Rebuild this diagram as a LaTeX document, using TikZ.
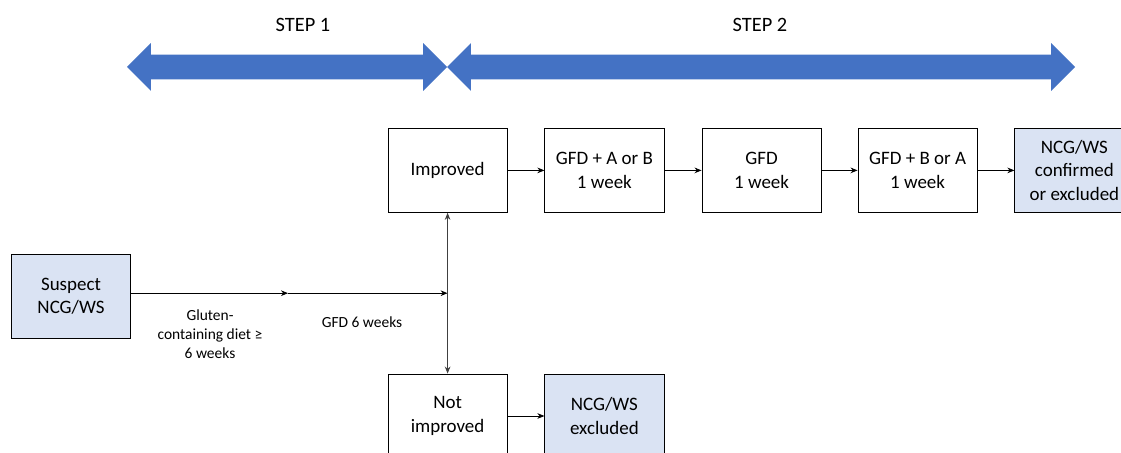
\documentclass[tikz,border=0pt]{standalone}
\usepackage{fontspec}
\setmainfont{Carlito}
\usepackage{tikz}
\usetikzlibrary{shapes, shapes.arrows, arrows.meta, positioning, calc}
\definecolor{stepblue}{RGB}{68, 114, 196}
\definecolor{paleblue}{RGB}{218, 227, 243}

\begin{document}
\begin{tikzpicture}[
  cbox/.style={draw, line width=0.6pt, minimum width=2.98cm, minimum height=2.1cm, align=center, font=\fontsize{13.5}{16.5}\selectfont, inner sep=2pt},
  endbox/.style={cbox, fill=paleblue},
  steparrow/.style={double arrow, fill=stepblue, draw=none, text height=0pt, text depth=0pt, inner xsep=0pt, inner ysep=0.3cm, double arrow head extend=0.29cm},
  flow/.style={-{Stealth[length=5pt, width=4pt]}, line width=0.6pt},
  lbl/.style={align=center, font=\fontsize{11}{13.5}\selectfont}
]
  \useasboundingbox (0, 0) rectangle (28.025, -11.325);

  \node[steparrow, minimum height=8.0cm] (arrowone) at (7.175, -1.675) {};
  \node[steparrow, minimum height=15.7cm] (arrowtwo) at (19.025, -1.675) {};
  \node[font=\fontsize{14.5}{17}\selectfont] (stepone) at (7.575, -0.625) {STEP 1};
  \node[font=\fontsize{14.5}{17}\selectfont] (steptwo) at (19.0, -0.625) {STEP 2};

  \node[endbox] (suspect) at (1.775, -7.4) {Suspect\\NCG/WS};
  \node[cbox] (improved) at (11.19, -4.26) {Improved};
  \node[cbox] (gfdab) at (15.11, -4.26) {GFD + A or B\\1 week};
  \node[cbox] (gfd) at (19.04, -4.26) {GFD\\1 week};
  \node[cbox] (gfdba) at (22.94, -4.26) {GFD + B or A\\1 week};
  \node[endbox] (confirmed) at (26.86, -4.26) {NCG/WS\\confirmed\\or excluded};
  \node[cbox] (notimproved) at (11.19, -10.4) {Not\\improved};
  \node[endbox] (excluded) at (15.11, -10.4) {NCG/WS\\excluded};

  \coordinate (junction) at (11.19, -7.33);
  \coordinate (midway) at (7.2, -7.33);

  \draw[flow] (suspect.east |- midway) -- (midway);
  \draw[flow] (midway) -- (junction);
  \draw[flow, black!75] (junction) -- (improved.south);
  \draw[flow, black!75] (junction) -- (notimproved.north);
  \draw[flow] (improved) -- (gfdab);
  \draw[flow] (gfdab) -- (gfd);
  \draw[flow] (gfd) -- (gfdba);
  \draw[flow] (gfdba) -- (confirmed);
  \draw[flow] (notimproved) -- (excluded);

  \node[lbl] (glutenlbl) at (5.25, -8.35) {Gluten-\\containing diet ≥\\6 weeks};
  \node[lbl] (gfdlbl) at (9.05, -8.05) {GFD 6 weeks};
\end{tikzpicture}
\end{document}
